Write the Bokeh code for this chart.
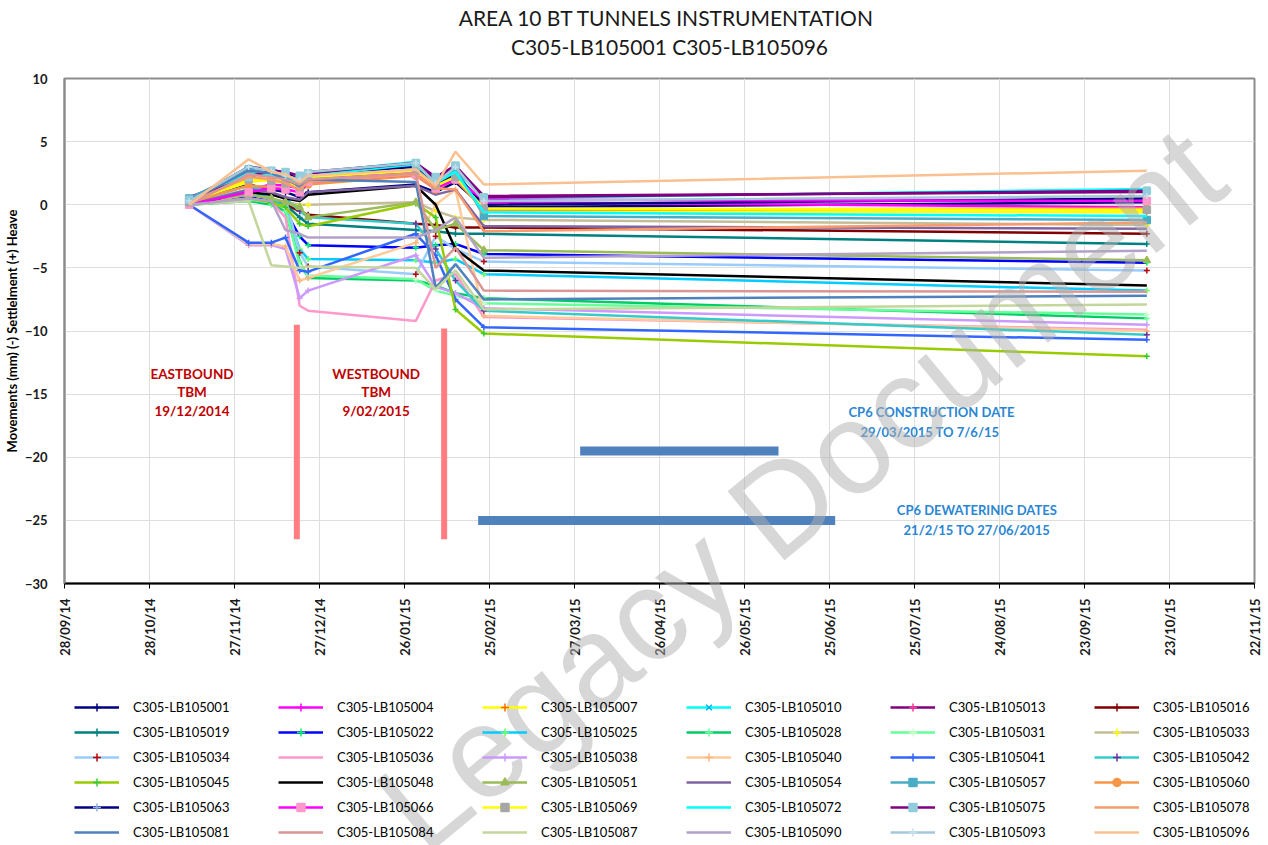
import pandas as pd
from bokeh.plotting import figure
from bokeh.layouts import column
from bokeh.models import (FixedTicker, DatetimeTickFormatter, Legend, LegendItem,
                          Range1d, Label)
from bokeh.core.properties import value
from bokeh.embed import file_html
from bokeh.resources import INLINE

# ---------------------------------------------------------------- data
survey_dates = pd.to_datetime([
    "2014-11-11", "2014-12-02", "2014-12-10", "2014-12-15", "2014-12-20",
    "2014-12-23", "2015-01-30", "2015-02-06", "2015-02-13", "2015-02-23",
    "2015-10-15",
])

lb105001 = [0.1, 1.6, 1.2, 1.0, 0.6, 1.0, 1.6, 1.0, 1.8, -0.2, 0.2]
lb105004 = [0.0, 1.2, 1.6, 1.5, 1.3, 2.0, 2.6, 1.5, 2.3, 0.2, -0.2]
lb105007 = [0.3, 1.8, 2.0, 1.8, 1.5, 2.2, 2.8, 1.6, 2.4, -0.5, -0.6]
lb105010 = [0.5, 2.6, 2.5, 2.2, 1.8, 2.5, 3.4, 1.8, 2.8, 0.5, 1.25]
lb105013 = [0.6, 2.3, 2.6, 2.2, 2.0, 2.6, 3.3, 2.0, 3.0, 0.7, 1.0]
lb105016 = [0.0, 0.5, 0.3, 0.0, -0.5, -0.8, -1.5, -1.6, -1.8, -1.8, -2.3]
lb105019 = [0.0, 0.4, 0.2, 0.0, -1.0, -1.5, -2.0, -2.1, -2.3, -2.3, -3.1]
lb105022 = [0.1, 0.6, 0.3, -0.5, -2.5, -3.2, -3.4, -3.2, -3.1, -3.9, -4.6]
lb105025 = [0.2, 1.0, 0.5, -0.2, -3.5, -4.3, -4.4, -4.6, -4.3, -5.5, -6.8]
lb105028 = [0.0, 0.3, 0.0, -0.5, -4.5, -5.8, -6.0, -6.4, -7.0, -7.4, -9.0]
lb105031 = [0.1, 0.4, 0.2, -0.3, -4.8, -5.6, -5.9, -6.8, -7.2, -7.8, -8.7]
lb105033 = [0.0, 0.8, 0.5, 0.2, 0.0, 0.0, 0.2, -0.5, -1.0, -1.2, -1.6]
lb105034 = [0.2, 1.2, 0.8, 0.5, -3.8, -4.9, -5.5, -2.5, -3.5, -4.5, -5.2]
lb105036 = [0.0, 0.5, 0.2, -1.0, -8.0, -8.4, -9.2, -6.0, -5.5, -8.9, -9.9]
lb105038 = [0.0, -3.2, -3.2, -3.5, -7.4, -6.8, -4.0, -6.5, -7.0, -8.2, -9.5]
lb105040 = [0.0, -3.1, -3.1, -3.3, -6.0, -5.8, -3.0, 0.0, 1.2, -8.8, -10.0]
lb105041 = [0.0, -3.0, -3.0, -2.6, -5.2, -5.3, -2.3, -4.0, -7.5, -9.7, -10.7]
lb105042 = [0.2, 1.5, 1.0, 0.5, -0.5, -1.0, -1.5, -3.5, -6.0, -8.4, -10.3]
lb105045 = [0.0, 0.5, 0.2, -0.2, -1.5, -1.7, 0.1, -1.0, -8.3, -10.2, -12.0]
lb105048 = [0.0, 1.0, 0.8, 0.5, 0.3, 0.8, 1.5, 0.0, -3.5, -5.2, -6.4]
lb105051 = [0.3, 0.8, 0.5, 0.2, -0.2, -1.0, 0.2, -2.0, -1.5, -3.6, -4.4]
lb105054 = [0.0, 1.2, 1.0, 0.6, 0.4, 1.0, 1.5, 0.8, 1.2, -1.7, -1.9]
lb105057 = [0.5, 2.8, 2.5, 2.2, 1.5, 2.0, 3.2, 1.5, 3.0, -0.9, -1.2]
lb105060 = [0.2, 1.5, 1.4, 1.2, 1.0, 1.6, 2.3, 1.2, 2.0, -0.4, -0.3]
lb105063 = [0.3, 3.0, 2.8, 2.5, 2.0, 2.4, 3.0, 1.5, 2.4, 0.0, 0.5]
lb105066 = [0.0, 1.0, 1.3, 1.2, 1.0, 1.8, 2.4, 1.3, 2.0, 0.4, 0.3]
lb105069 = [0.2, 2.0, 1.9, 1.7, 1.4, 2.2, 2.7, 1.5, 2.2, -0.3, -0.4]
lb105072 = [0.4, 2.4, 2.3, 2.0, 1.7, 2.3, 3.2, 1.7, 2.6, -0.6, -0.9]
lb105075 = [0.4, 2.2, 2.7, 2.6, 2.3, 2.5, 3.3, 2.2, 3.1, 0.6, 1.1]
lb105078 = [0.2, 2.2, 2.0, 1.7, 1.2, 1.8, 2.4, 1.3, 1.2, -2.1, -1.4]
lb105081 = [0.3, 2.7, 2.5, 2.0, 1.5, 2.0, 1.8, -6.6, -4.7, -7.5, -7.2]
lb105084 = [0.0, 2.4, 2.2, 2.0, 1.6, 2.0, 2.5, -5.0, -3.4, -6.8, -6.9]
lb105087 = [0.0, 0.3, -4.8, -4.9, -5.0, -4.9, -5.0, -6.7, -5.2, -8.3, -7.9]
lb105090 = [0.0, 0.5, 0.3, -2.0, -2.3, -2.6, -2.6, -2.0, -1.0, -4.2, -3.65]
lb105093 = [0.3, 3.0, 2.7, 2.3, 2.0, 2.6, 3.3, 1.7, 3.0, 0.3, 0.7]
lb105096 = [0.0, 3.6, 2.6, 2.4, 1.8, 2.3, 2.8, 1.5, 4.2, 1.6, 2.7]

sensor_names = [
    "C305-LB105001", "C305-LB105004", "C305-LB105007", "C305-LB105010", "C305-LB105013", "C305-LB105016",
    "C305-LB105019", "C305-LB105022", "C305-LB105025", "C305-LB105028", "C305-LB105031", "C305-LB105033",
    "C305-LB105034", "C305-LB105036", "C305-LB105038", "C305-LB105040", "C305-LB105041", "C305-LB105042",
    "C305-LB105045", "C305-LB105048", "C305-LB105051", "C305-LB105054", "C305-LB105057", "C305-LB105060",
    "C305-LB105063", "C305-LB105066", "C305-LB105069", "C305-LB105072", "C305-LB105075", "C305-LB105078",
    "C305-LB105081", "C305-LB105084", "C305-LB105087", "C305-LB105090", "C305-LB105093", "C305-LB105096",
]
sensor_values = [
    lb105001, lb105004, lb105007, lb105010, lb105013, lb105016,
    lb105019, lb105022, lb105025, lb105028, lb105031, lb105033,
    lb105034, lb105036, lb105038, lb105040, lb105041, lb105042,
    lb105045, lb105048, lb105051, lb105054, lb105057, lb105060,
    lb105063, lb105066, lb105069, lb105072, lb105075, lb105078,
    lb105081, lb105084, lb105087, lb105090, lb105093, lb105096,
]

title_lines = ["AREA 10  BT TUNNELS INSTRUMENTATION", "C305-LB105001 C305-LB105096"]

# event annotations
tbm_dates = pd.to_datetime(["2014-12-19", "2015-02-09"])
tbm_top = [-9.5, -9.8]
tbm_bottom = [-26.5, -26.5]
tbm_text = [["EASTBOUND", "TBM", "19/12/2014"], ["WESTBOUND", "TBM", "9/02/2015"]]

cp6_start = pd.to_datetime(["2015-03-29", "2015-02-21"])
cp6_end = pd.to_datetime(["2015-06-07", "2015-06-27"])
cp6_level = [-19.5, -25.0]
cp6_text = [["CP6 CONSTRUCTION DATE", "29/03/2015  TO 7/6/15"],
            ["CP6 DEWATERINIG DATES", "21/2/15 TO 27/06/2015"]]

x_ticks = pd.date_range("2014-09-28", "2015-11-22", freq="30D")

# ---------------------------------------------------------------- styles
line_colors = [
    "#000080", "#ff00ff", "#ffff00", "#00ffff", "#800080", "#800000",
    "#008080", "#0000ff", "#00ccff", "#00cc66", "#66ff99", "#c4bd97",
    "#99ccff", "#ff99cc", "#cc99ff", "#ffcc99", "#3366ff", "#33cccc",
    "#99cc00", "#000000", "#9bbb59", "#8064a2", "#4bacc6", "#f79646",
    "#000080", "#ff00ff", "#ffff00", "#00ffff", "#800080", "#f79b6e",
    "#4f81bd", "#d99694", "#c3d69b", "#b3a2c7", "#a5c8d8", "#fac090",
]
# (marker, marker colour) or None
marker_styles = [
    ("cross", "#000080"), ("cross", "#ff00ff"), ("cross", "#ff6600"), ("x", "#00b0f0"), ("cross", "#ff3399"), ("cross", "#800000"),
    ("cross", "#008080"), ("cross", "#00ff66"), ("cross", "#66ff66"), ("cross", "#66ff99"), ("cross", "#ccffcc"), ("cross", "#ffff00"),
    ("cross", "#c00000"), None, ("cross", "#cc99ff"), ("cross", "#ffb380"), ("cross", "#3366ff"), ("cross", "#7030a0"),
    ("cross", "#33cc33"), None, ("triangle", "#9bbb59"), None, ("square", "#4bacc6"), ("circle", "#f79646"),
    ("cross", "#8db4e2"), ("square", "#ff99cc"), ("square", "#a6a6a6"), None, ("square", "#92cddc"), None,
    None, None, None, None, ("cross", "#c5e0eb"), None,
]

FONT = "Lato"
RED = "#c00000"
NOTE_BLUE = "#2a86d3"
W, H = 1268, 845

# ---------------------------------------------------------------- chart
p = figure(width=W, height=H, x_axis_type="datetime", output_backend="svg",
           toolbar_location=None, title=None,
           x_range=Range1d(pd.Timestamp("2014-09-28"), pd.Timestamp("2015-11-22")),
           y_range=Range1d(-30, 10),
           min_border_left=64, min_border_right=14, min_border_bottom=262,
           min_border_top=78)
p.frame_align = False

p.outline_line_color = "#8c8c8c"
p.outline_line_width = 2
p.background_fill_color = "white"
p.border_fill_color = "white"

p.xgrid.grid_line_color = "#dedede"
p.ygrid.grid_line_color = "#dedede"
p.xgrid.ticker = FixedTicker(ticks=[t.value // 10**6 for t in x_ticks])
p.xaxis.ticker = FixedTicker(ticks=[t.value // 10**6 for t in x_ticks])
fmt = "%d/%m/%y"
p.xaxis.formatter = DatetimeTickFormatter(days=fmt, months=fmt, years=fmt, hours=fmt,
                                          minutes=fmt, seconds=fmt, milliseconds=fmt,
                                          microseconds=fmt, minsec=fmt, hourmin=fmt,
                                          context=None)
p.xaxis.major_label_orientation = 1.5708
p.xaxis.major_label_text_font = FONT
p.xaxis.major_label_text_font_style = "bold"
p.xaxis.major_label_text_font_size = "13px"
p.xaxis.major_label_text_color = "#1a1a1a"
p.xaxis.major_label_standoff = 10
p.xaxis.axis_line_color = "black"
p.xaxis.axis_line_width = 2
p.xaxis.major_tick_out = 5
p.xaxis.major_tick_in = 0
p.xaxis.major_tick_line_color = "black"
p.xaxis.minor_tick_line_color = None

p.yaxis.ticker = FixedTicker(ticks=[-30, -25, -20, -15, -10, -5, 0, 5, 10])
p.yaxis.major_label_text_font = FONT
p.yaxis.major_label_text_font_style = "bold"
p.yaxis.major_label_text_font_size = "13px"
p.yaxis.major_label_text_color = "#1a1a1a"
p.yaxis.major_tick_line_color = None
p.yaxis.minor_tick_line_color = None
p.yaxis.axis_line_color = "#8c8c8c"
p.yaxis.axis_line_width = 2
p.yaxis.major_label_standoff = 11
p.yaxis.axis_label = "Movements (mm) (-) Settlelment (+) Heave"
p.yaxis.axis_label_text_font = FONT
p.yaxis.axis_label_text_font_style = "bold"
p.yaxis.axis_label_text_font_size = "13px"
p.yaxis.axis_label_text_color = "black"
p.yaxis.axis_label_standoff = 2

# event bars
p.segment(x0=tbm_dates, y0=tbm_top, x1=tbm_dates, y1=tbm_bottom,
          line_width=6, line_color="#ff7c80", line_cap="butt")
p.segment(x0=cp6_start, y0=cp6_level, x1=cp6_end, y1=cp6_level,
          line_width=9, line_color="#4f81bd", line_cap="butt")

# sensor series
for vals, color, mk in zip(sensor_values, line_colors, marker_styles):
    p.line(survey_dates, vals, line_color=color, line_width=2.5)
    if mk is not None:
        shape, mcolor = mk
        size = 7 if shape in ("square", "triangle", "circle") else 6
        p.scatter(survey_dates, vals, marker=shape, size=size,
                  line_color=mcolor, fill_color=mcolor, line_width=1.5)

# annotation texts
for d, lines in zip([pd.Timestamp("2014-11-12"), pd.Timestamp("2015-01-16")], tbm_text):
    p.text(x=[d] * len(lines), y=[-13.4] * len(lines), text=lines,
           y_offset=[18.5 * i for i in range(len(lines))],
           text_font=value(FONT), text_font_style="bold", text_font_size="13.5px",
           text_color=RED, text_align="center", text_baseline="middle")
for d, y0, lines in zip([pd.Timestamp("2015-07-31"), pd.Timestamp("2015-08-16")],
                        [-16.4, -24.2], cp6_text):
    p.text(x=[d] * len(lines), y=[y0] * len(lines), text=lines,
           y_offset=[20 * i for i in range(len(lines))],
           text_font=value(FONT), text_font_style="bold", text_font_size="13px",
           text_color=NOTE_BLUE, text_align="center", text_baseline="middle")

# ---------------------------------------------------------------- sheet layer
# transparent full-page layer laid over the chart: title, legend block, watermark
sheet = figure(width=W, height=H, output_backend="svg", toolbar_location=None,
               title=None, x_range=Range1d(0, W), y_range=Range1d(0, H),
               x_axis_location=None, y_axis_location=None,
               min_border=0, min_border_left=0, min_border_right=0,
               min_border_top=0, min_border_bottom=0,
               outline_line_color=None,
               background_fill_alpha=0, border_fill_alpha=0,
               styles={"position": "absolute", "top": "0px", "left": "0px",
                       "pointer-events": "none"})
sheet.frame_align = False
sheet.grid.visible = False

# two-line heading centred over the plot area
for i, line in enumerate(title_lines):
    sheet.add_layout(Label(x=669, y=H - 17 - 29 * i, text=line,
                           text_align="center", text_baseline="middle",
                           text_font=FONT, text_font_size="21px",
                           text_color="#1a1a1a"))

# legend swatches reuse each series' line and marker style (drawn off-page)
items = []
for name, color, mk in zip(sensor_names, line_colors, marker_styles):
    rs = [sheet.line([-50, -40], [-50, -50], line_color=color, line_width=2.5)]
    if mk is not None:
        shape, mcolor = mk
        size = 7 if shape in ("square", "triangle", "circle") else 6
        rs.append(sheet.scatter([-50], [-50], marker=shape, size=size,
                                line_color=mcolor, fill_color=mcolor, line_width=1.5))
    items.append(LegendItem(label=name, renderers=rs))

legend = Legend(items=items, location=(71, 0), orientation="horizontal", ncols=6,
                glyph_width=45, glyph_height=20, label_width=140, label_height=20,
                label_standoff=14, spacing=5, padding=3, margin=0,
                border_line_alpha=0, background_fill_alpha=0,
                label_text_font=FONT, label_text_font_size="13px",
                label_text_color="black")
sheet.add_layout(legend, "center")

sheet.add_layout(Label(x=800, y=H - 488, text="Legacy Document", angle=0.69,
                       text_align="center", text_baseline="middle",
                       text_font="Liberation Sans", text_font_size="130px",
                       text_color="#b0b0b0", text_alpha=0.5))

page = column(p, sheet, spacing=0)
open("out.html", "w").write(file_html(page, INLINE))
